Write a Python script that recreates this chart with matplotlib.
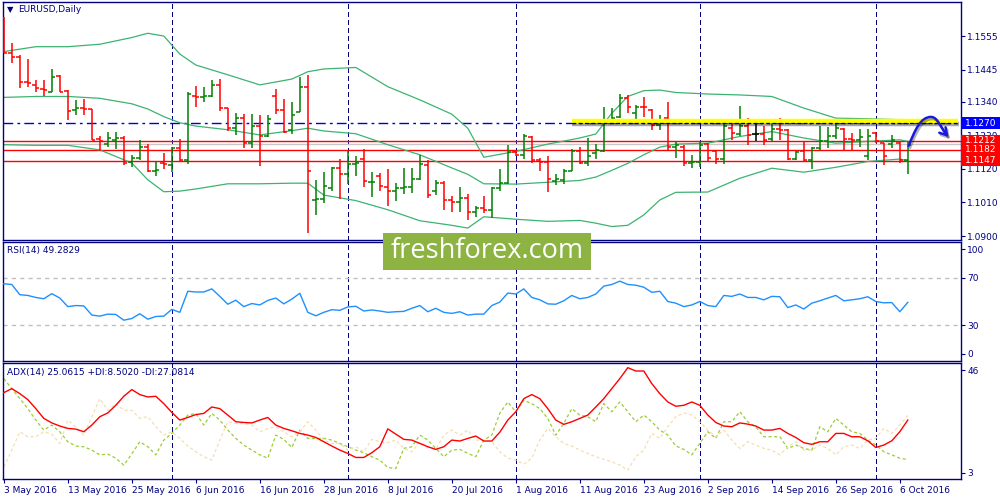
import matplotlib
matplotlib.use('Agg')
import matplotlib.pyplot as plt
import matplotlib.patheffects as pe
import matplotlib.transforms as mtransforms
from matplotlib.collections import LineCollection
from matplotlib.path import Path
from matplotlib.patches import FancyArrowPatch, Rectangle
import pandas as pd

plt.rcParams['font.family'] = ['DejaVu Sans']

# ---------------- data ----------------
symbol_title = "EURUSD,Daily"
dates = pd.bdate_range("2016-05-03", "2016-10-07")

opens = [1.1613,1.1498,1.1487,1.1406,1.1395,1.1380,1.1373,1.1424,1.1376,1.1313,
         1.1319,1.1315,1.1217,1.1202,1.1215,1.1221,1.1144,1.1155,1.1193,1.1112,
         1.1139,1.1133,1.1188,1.1150,1.1357,1.1355,1.1359,1.1395,1.1318,1.1253,
         1.1286,1.1206,1.1261,1.1226,1.1357,1.1313,1.1246,1.1305,1.1387,1.1019,
         1.1021,1.1057,1.1122,1.1103,1.1137,1.1152,1.1076,1.1097,1.1060,1.1049,
         1.1057,1.1060,1.1086,1.1133,1.1046,1.1073,1.1018,1.1011,1.1024,1.0980,
         1.0992,1.0984,1.1057,1.1073,1.1175,1.1164,1.1224,1.1150,1.1144,1.1079,
         1.1084,1.1112,1.1180,1.1139,1.1172,1.1177,1.1281,1.1291,1.1353,1.1302,
         1.1324,1.1313,1.1264,1.1286,1.1193,1.1193,1.1139,1.1144,1.1202,1.1177,
         1.1152,1.1253,1.1235,1.1259,1.1235,1.1235,1.1217,1.1250,1.1246,1.1152,
         1.1177,1.1150,1.1188,1.1210,1.1226,1.1250,1.1217,1.1215,1.1161,1.1237,
         1.1204,1.1202,1.1204,1.1148]
highs = [1.1618,1.1531,1.1493,1.1479,1.1411,1.1411,1.1447,1.1427,1.1378,1.1344,
         1.1350,1.1317,1.1228,1.1239,1.1241,1.1226,1.1166,1.1215,1.1202,1.1144,
         1.1171,1.1193,1.1217,1.1370,1.1392,1.1387,1.1411,1.1414,1.1319,1.1302,
         1.1299,1.1300,1.1295,1.1297,1.1383,1.1348,1.1340,1.1422,1.1427,1.1084,
         1.1109,1.1127,1.1151,1.1177,1.1161,1.1185,1.1111,1.1107,1.1120,1.1073,
         1.1124,1.1122,1.1164,1.1150,1.1084,1.1079,1.1030,1.1059,1.1037,1.0999,
         1.1030,1.1062,1.1119,1.1199,1.1182,1.1234,1.1226,1.1155,1.1161,1.1104,
         1.1119,1.1186,1.1193,1.1221,1.1202,1.1322,1.1319,1.1366,1.1362,1.1329,
         1.1355,1.1317,1.1297,1.1340,1.1210,1.1197,1.1166,1.1210,1.1204,1.1182,
         1.1275,1.1267,1.1326,1.1286,1.1270,1.1261,1.1270,1.1286,1.1250,1.1180,
         1.1211,1.1193,1.1259,1.1256,1.1281,1.1253,1.1237,1.1250,1.1250,1.1239,
         1.1206,1.1231,1.1210,1.1210]
lows = [1.1498,1.1466,1.1384,1.1387,1.1373,1.1357,1.1370,1.1370,1.1280,1.1297,
        1.1297,1.1213,1.1177,1.1193,1.1186,1.1131,1.1126,1.1148,1.1108,1.1095,
        1.1119,1.1108,1.1141,1.1136,1.1324,1.1340,1.1355,1.1308,1.1245,1.1232,
        1.1188,1.1188,1.1128,1.1224,1.1299,1.1237,1.1235,1.1305,1.0909,1.0970,
        1.1008,1.1046,1.1021,1.1070,1.1095,1.1060,1.1028,1.1049,1.0999,1.1014,
        1.1039,1.1041,1.1084,1.1023,1.1035,1.0986,1.0977,1.0977,1.0951,1.0963,
        1.0975,1.0959,1.1048,1.1071,1.1161,1.1152,1.1139,1.1112,1.1043,1.1068,
        1.1071,1.1112,1.1136,1.1128,1.1152,1.1174,1.1270,1.1286,1.1302,1.1270,
        1.1289,1.1246,1.1248,1.1180,1.1155,1.1128,1.1122,1.1125,1.1142,1.1137,
        1.1137,1.1215,1.1226,1.1197,1.1211,1.1199,1.1210,1.1215,1.1148,1.1148,
        1.1144,1.1120,1.1182,1.1188,1.1217,1.1182,1.1182,1.1193,1.1150,1.1204,
        1.1133,1.1188,1.1139,1.1103]
closes = [1.1498,1.1487,1.1406,1.1402,1.1384,1.1378,1.1422,1.1373,1.1308,1.1319,
          1.1315,1.1215,1.1210,1.1221,1.1221,1.1139,1.1155,1.1193,1.1112,1.1115,
          1.1135,1.1189,1.1148,1.1366,1.1355,1.1357,1.1395,1.1318,1.1253,1.1286,
          1.1206,1.1261,1.1226,1.1283,1.1313,1.1242,1.1297,1.1387,1.1112,1.1021,
          1.1065,1.1122,1.1104,1.1137,1.1139,1.1079,1.1078,1.1063,1.1049,1.1057,
          1.1060,1.1086,1.1137,1.1035,1.1073,1.1018,1.1011,1.1024,1.0980,1.0992,
          1.0984,1.1057,1.1073,1.1175,1.1164,1.1226,1.1150,1.1144,1.1086,1.1086,
          1.1112,1.1177,1.1139,1.1161,1.1182,1.1281,1.1286,1.1351,1.1322,1.1324,
          1.1322,1.1264,1.1281,1.1193,1.1199,1.1139,1.1144,1.1199,1.1155,1.1152,
          1.1261,1.1237,1.1259,1.1232,1.1235,1.1215,1.1250,1.1246,1.1152,1.1174,
          1.1150,1.1188,1.1210,1.1226,1.1253,1.1217,1.1215,1.1224,1.1226,1.1210,
          1.1161,1.1215,1.1148,1.1198]

band_idx = [0,4,8,12,16,18,20,22,24,28,32,36,38,40,44,48,52,56,58,60,
            64,68,72,74,76,78,80,82,84,88,92,96,100,104,108,112,113]
band_upper = [1.1504,1.1520,1.1520,1.1528,1.1550,1.1564,1.1555,1.1496,1.1460,1.1428,
              1.1395,1.1414,1.1438,1.1447,1.1452,1.1389,1.1346,1.1299,1.1253,1.1158,
              1.1177,1.1201,1.1221,1.1234,1.1302,1.1357,1.1376,1.1378,1.1370,1.1365,
              1.1362,1.1357,1.1319,1.1286,1.1284,1.1281,1.1275]
band_middle = [1.1354,1.1357,1.1357,1.1351,1.1333,1.1316,1.1291,1.1271,1.1260,1.1248,
               1.1231,1.1245,1.1253,1.1244,1.1235,1.1199,1.1166,1.1123,1.1102,1.1071,
               1.1070,1.1076,1.1082,1.1093,1.1115,1.1138,1.1166,1.1191,1.1201,1.1204,
               1.1226,1.1242,1.1221,1.1204,1.1210,1.1215,1.1210]
band_lower = [1.1199,1.1197,1.1197,1.1182,1.1139,1.1084,1.1045,1.1047,1.1054,1.1071,
              1.1071,1.1073,1.1073,1.1034,1.1016,1.0986,1.0950,1.0935,1.0926,1.0963,
              1.0955,1.0948,1.0951,1.0942,1.0931,1.0935,1.0969,1.1018,1.1043,1.1044,
              1.1089,1.1122,1.1109,1.1125,1.1144,1.1152,1.1146]

rsi = [64.9,64.3,55.7,55.1,53.4,52.3,56.6,52.9,45.7,46.6,
       46.3,38.6,37.7,39.4,39.1,34.3,35.7,39.7,35.1,37.4,
       37.7,43.4,40.9,58.6,58.0,58.0,60.6,54.3,47.7,51.1,
       45.7,48.3,47.1,50.9,52.9,48.0,52.0,56.9,40.9,38.0,
       40.9,43.1,42.6,45.4,46.0,42.0,42.9,42.0,40.9,41.4,
       41.7,44.3,46.6,41.4,44.3,40.9,40.0,41.4,38.6,39.4,
       39.4,46.6,49.5,57.1,56.3,60.6,53.4,51.4,48.0,47.7,
       50.6,55.1,52.3,53.4,56.3,62.9,64.3,67.1,64.3,63.7,
       62.0,57.7,58.6,50.0,48.6,45.7,47.1,50.0,46.6,45.7,
       55.1,54.3,56.3,53.4,53.4,51.4,54.3,54.0,44.9,47.1,
       43.7,48.6,50.6,52.9,55.1,50.6,51.4,52.3,54.0,50.0,
       48.9,49.1,41.4,49.3]

adx = [36.6,38.3,36.2,33.7,29.9,25.8,23.9,22.6,21.6,21.3,
       20.2,23.0,26.5,28.1,31.3,35.1,37.9,35.8,34.8,35.1,
       32.0,28.3,25.1,26.2,27.4,27.9,30.6,29.9,27.2,24.4,
       24.1,23.9,25.1,26.2,23.0,21.6,20.6,19.5,18.8,17.8,
       16.0,14.2,12.5,11.1,9.4,9.4,11.4,13.9,21.4,19.2,
       17.0,16.7,15.3,13.9,12.8,13.9,16.7,16.3,17.4,18.4,
       16.3,16.3,20.0,25.1,28.6,34.1,35.8,34.1,29.9,25.1,
       23.3,24.4,25.8,27.2,30.6,34.1,38.3,42.5,47.1,45.7,
       45.7,40.4,36.2,32.7,30.9,31.3,32.7,31.3,27.2,24.1,
       22.6,22.3,23.9,23.4,22.6,20.9,20.9,21.6,19.5,17.8,
       15.6,14.9,16.0,16.0,19.5,19.5,18.1,18.1,16.4,13.6,
       14.6,16.4,20.2,25.1]
plus_di = [42.5,38.3,34.1,29.9,25.1,20.9,23.0,20.2,16.0,14.2,
           13.9,12.5,10.5,10.8,9.1,6.2,10.9,16.0,13.9,10.5,
           16.7,19.5,23.0,27.2,27.9,23.0,27.9,25.1,20.9,17.4,
           14.6,12.5,10.5,9.1,18.8,17.0,13.6,20.9,17.4,17.4,
           17.4,16.7,15.3,13.9,12.5,11.4,9.7,8.3,5.2,4.8,
           13.2,13.9,18.8,16.7,13.2,9.7,12.5,12.8,11.1,9.7,
           16.7,18.8,28.0,32.7,28.6,33.4,32.0,29.9,25.8,18.8,
           23.7,29.9,27.2,26.5,24.4,32.0,28.6,32.7,28.6,24.4,
           27.2,24.4,20.9,18.8,14.2,12.8,10.5,15.3,20.2,17.4,
           24.4,24.4,28.6,24.4,22.3,18.1,18.1,18.1,13.2,14.6,
           13.2,12.5,22.3,20.2,25.8,23.0,20.2,19.5,16.7,14.6,
           11.8,10.5,9.1,8.5]
minus_di = [5.5,12.5,20.2,18.1,18.1,20.2,19.2,15.3,25.1,22.3,
            18.8,26.5,34.1,29.2,32.0,29.2,29.2,25.8,26.5,22.3,
            18.8,20.2,17.4,14.2,11.8,9.7,8.3,16.7,24.4,23.7,
            23.7,23.0,20.2,21.6,22.3,20.2,18.1,20.2,24.4,20.9,
            16.7,15.3,15.3,12.5,13.9,11.8,17.0,16.0,15.6,16.7,
            13.2,11.8,16.0,13.9,12.8,18.8,20.9,18.8,20.9,16.7,
            16.7,16.0,11.8,9.1,8.3,6.6,9.1,16.7,21.6,18.1,
            15.3,14.2,12.5,11.1,9.7,8.6,7.6,6.2,4.1,9.7,
            12.5,19.5,17.4,22.3,26.5,28.1,27.2,24.4,20.9,18.1,
            20.9,16.7,13.2,16.0,14.6,13.2,12.5,10.5,13.9,16.0,
            12.5,12.5,14.6,13.2,10.5,13.9,14.6,13.2,16.7,17.4,
            21.6,19.5,23.0,27.1]

support_levels = [1.1212, 1.1182, 1.1147]
resistance_level = 1.1270
bid_level = 1.1200
yellow_level = 1.1276
yellow_span = [71, 119.3]
arrow_x = [113.1, 113.9, 114.6, 115.9, 116.75, 117.1, 118.1]
arrow_y = [1.1195, 1.1247, 1.1290, 1.1290, 1.1290, 1.1254, 1.1224]

price_ticks = [1.1555, 1.1445, 1.1340, 1.1230, 1.1120, 1.1010, 1.0900]
rsi_ticks = [94, 70, 30, 6]
rsi_tick_labels = ['100', '70', '30', '0']
adx_ticks = [46, 3]

rsi_label = "RSI(14) 49.2829"
adx_label = "ADX(14) 25.0615 +DI:8.5020 -DI:27.0814"
watermark = "freshforex.com"

# ---------------- style ----------------
NAVY = '#000080'
FS = 6.5
n = len(closes)
xs = list(range(n))

fig = plt.figure(figsize=(10, 5), dpi=100)
L, R = 3 / 1000, 961 / 1000
ax1 = fig.add_axes([L, 1 - 240 / 500, R - L, 238 / 500])
ax2 = fig.add_axes([L, 1 - 361 / 500, R - L, 119 / 500])
ax3 = fig.add_axes([L, 1 - 479 / 500, R - L, 116 / 500])
axes = [ax1, ax2, ax3]

XMIN, XMAX = -0.1, 119.65
for ax in axes:
    ax.set_xlim(XMIN, XMAX)
    for s in ax.spines.values():
        s.set_color(NAVY)
        s.set_linewidth(1.0)
    ax.yaxis.tick_right()
    ax.tick_params(axis='y', which='both', right=True, left=False, labelright=True,
                   labelleft=False, direction='out', length=3, width=0.8,
                   color=NAVY, labelsize=FS, labelcolor=NAVY, pad=1.5)
    ax.set_facecolor('white')

# month-start grid lines
month_idx = [i for i in range(1, n) if dates[i].month != dates[i - 1].month]
for ax in axes:
    for m in month_idx:
        ax.axvline(m, color=NAVY, lw=0.75, ls=(0, (4, 3.5)), zorder=0.5, antialiased=False)

# ---------------- main panel ----------------
ax1.set_ylim(1.08869, 1.16664)
ax1.set_yticks(price_ticks)
ax1.set_yticklabels([f"{p:.4f}" for p in price_ticks])
ax1.set_xticks([])

ax1.axhline(bid_level, color='#C8C8C8', lw=1.0, zorder=1)
ax1.axhline(resistance_level, color='#0000CD', lw=1.0, ls=(0, (7, 3, 2, 3)), zorder=1)
for lv in support_levels:
    ax1.axhline(lv, color='#FF0000', lw=1.0, zorder=1.2)

ax1.plot(band_idx, band_upper, color='#3CB371', lw=0.9, zorder=2)
ax1.plot(band_idx, band_middle, color='#3CB371', lw=0.9, zorder=2)
ax1.plot(band_idx, band_lower, color='#3CB371', lw=0.9, zorder=2)

segs, cols = [], []
for i in xs:
    o, h, l, c = opens[i], highs[i], lows[i], closes[i]
    col = '#008000' if c > o else ('#FF0000' if c < o else '#000000')
    segs += [[(i, l), (i, h)], [(i - 0.42, o), (i, o)], [(i, c), (i + 0.42, c)]]
    cols += [col] * 3
ax1.add_collection(LineCollection(segs, colors=cols, linewidths=1.1, zorder=3))

# yellow highlighted resistance trend line
ax1.plot(yellow_span, [yellow_level] * 2, color='#FFFF00', lw=3.2, solid_capstyle='butt',
         zorder=4, path_effects=[pe.SimpleLineShadow(offset=(0.5, -2.2), shadow_color='black', alpha=0.35),
                                 pe.Normal()])
ax1.plot(yellow_span, [resistance_level] * 2, color='black', lw=0.9, ls=(0, (3, 2)), zorder=4.5)

# hand-drawn blue arrow
verts = list(zip(arrow_x, arrow_y))
codes = [Path.MOVETO, Path.CURVE4, Path.CURVE4, Path.CURVE4, Path.CURVE4, Path.CURVE4, Path.CURVE4]
arrow = FancyArrowPatch(path=Path(verts, codes), arrowstyle='->,head_length=5,head_width=3',
                        mutation_scale=1, color='#1A1ADC', lw=1.8, zorder=6,
                        path_effects=[pe.SimpleLineShadow(offset=(1, -1.5), shadow_color='black', alpha=0.3),
                                      pe.Normal()])
ax1.add_patch(arrow)

# price labels on the right
btrans = mtransforms.blended_transform_factory(ax1.transAxes, ax1.transData)
box_w = 40 / 958
half = 5.6 * (1.16664 - 1.08869) / 238
for lv, fc in [(resistance_level, '#0000FF')] + [(v, '#FF0000') for v in support_levels]:
    ax1.add_patch(Rectangle((1.0, lv - half), box_w, 2 * half, transform=btrans,
                            facecolor=fc, edgecolor='none', clip_on=False, zorder=10))
    ax1.text(1.0045, lv, f"{lv:.4f}", transform=btrans, color='white', fontsize=FS,
             va='center', ha='left', zorder=11, clip_on=False)

# ---------------- RSI panel ----------------
ax2.set_ylim(0, 100)
ax2.set_yticks(rsi_ticks)
ax2.set_yticklabels(rsi_tick_labels)
ax2.set_xticks([])
for lv in (70, 30):
    ax2.axhline(lv, color='#C0C0C0', lw=1.0, ls=(0, (3, 3)), zorder=1)
ax2.plot(xs, rsi, color='#1E90FF', lw=1.0, zorder=3)

# ---------------- ADX panel ----------------
ax3.set_ylim(0.36, 49.06)
ax3.set_yticks(adx_ticks)
ax3.set_yticklabels([str(t) for t in adx_ticks])
ax3.plot(xs, plus_di, color='#9ACD32', lw=0.9, ls=(0, (2.5, 2)), zorder=2)
ax3.plot(xs, minus_di, color='#F5DEB3', lw=0.9, ls=(0, (2.5, 2)), zorder=2)
ax3.plot(xs, adx, color='#FF0000', lw=1.0, zorder=3)

tick_pos = list(range(0, n, 8))
ax3.set_xticks(tick_pos)
ax3.set_xticklabels([f"{dates[i].day} {dates[i].strftime('%b %Y')}" for i in tick_pos])
ax3.tick_params(axis='x', direction='out', length=3, width=0.8, color=NAVY,
                labelsize=FS, labelcolor=NAVY, pad=2)
for lab in ax3.get_xticklabels():
    lab.set_horizontalalignment('left')

# ---------------- texts ----------------
fig.text(7 / 1000, 1 - 9.5 / 500, '\u25BC', fontsize=6, color=NAVY, va='center', ha='left')
fig.text(18 / 1000, 1 - 10 / 500, symbol_title, fontsize=FS, color=NAVY, va='center', ha='left')
fig.text(7 / 1000, 1 - 251 / 500, rsi_label, fontsize=FS, color=NAVY, va='center', ha='left')
fig.text(7 / 1000, 1 - 372 / 500, adx_label, fontsize=FS, color=NAVY, va='center', ha='left')

# watermark
fig.patches.append(Rectangle((383 / 1000, 1 - 270 / 500), 208 / 1000, 37 / 500,
                             transform=fig.transFigure, facecolor='#8DB443',
                             edgecolor='none', zorder=20))
fig.text(487 / 1000, 1 - 251.5 / 500, watermark, fontsize=19.5, color='white',
         family=['Open Sans', 'DejaVu Sans'], va='center', ha='center', zorder=21)

fig.savefig('out.png', dpi=100, facecolor='white')
